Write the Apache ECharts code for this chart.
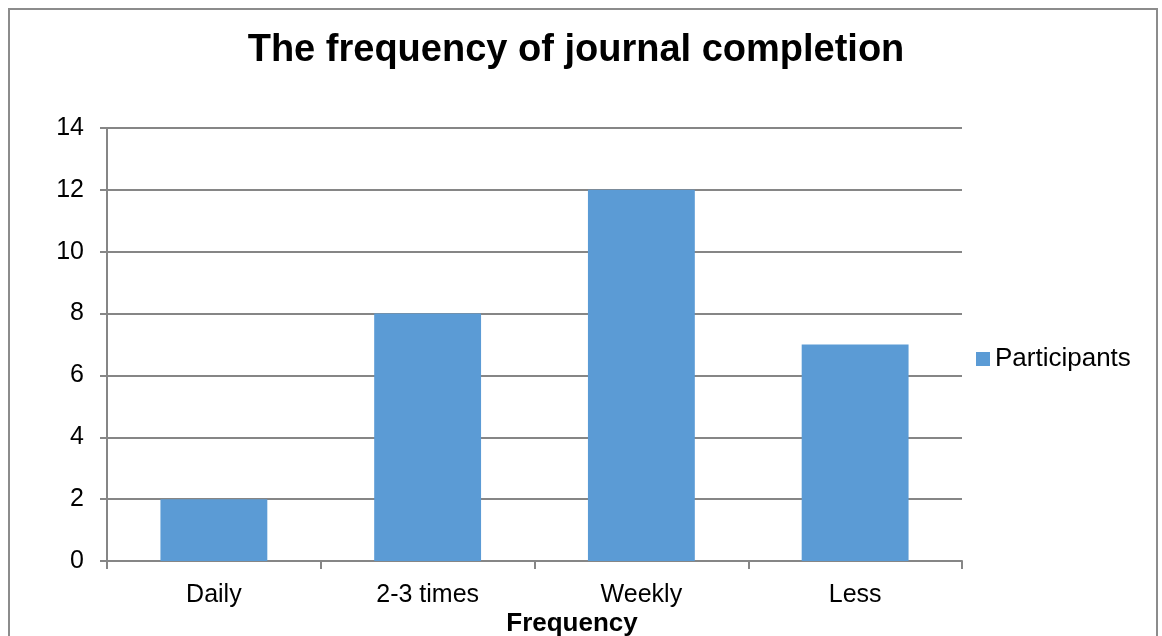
<!DOCTYPE html>
<html>
<head>
<meta charset="utf-8">
<script src="https://cdn.jsdelivr.net/npm/echarts@6/dist/echarts.min.js"></script>
<style>
  html, body { margin: 0; padding: 0; background: #fff; }
  #frame { position: absolute; left: 8px; top: 8px; width: 1150px; height: 700px; border: 2px solid #8c8c8c; box-sizing: border-box; }
  #chart { position: absolute; left: 0; top: 0; width: 1162px; height: 636px; }
</style>
</head>
<body>
<div id="frame"></div>
<div id="chart"></div>
<script>
const categories = ['Daily', '2-3 times', 'Weekly', 'Less'];
const participants = [2, 8, 12, 7];
const yTicks = { min: 0, max: 14, interval: 2 };

const gray = '#868686';
const font = "'Liberation Sans', Arial, sans-serif";

const myChart = echarts.init(document.getElementById('chart'));
const option = {
    animation: false,
    textStyle: { fontFamily: font },
    title: [{
        text: 'The frequency of journal completion',
        left: 571,
        top: 27,
        textAlign: 'center',
        textStyle: { fontSize: 38, fontWeight: 'bold', color: '#000', fontFamily: font }
    }, {
        text: 'Frequency',
        left: 567,
        top: 606,
        textAlign: 'center',
        textStyle: { fontSize: 26, fontWeight: 'bold', color: '#000', fontFamily: font }
    }],
    legend: {
        left: 976,
        top: 346,
        padding: 0,
        itemWidth: 14,
        itemHeight: 14,
        icon: 'rect',
        textStyle: { fontSize: 26, color: '#000', fontFamily: font },
        data: ['Participants']
    },
    grid: { left: 107, right: 200, top: 128, bottom: 75 },
    xAxis: {
        type: 'category',
        data: categories,
        axisLine: { show: true, lineStyle: { color: gray, width: 2 } },
        axisTick: { show: true, length: 8, lineStyle: { color: gray, width: 2 } },
        axisLabel: { fontSize: 25, color: '#000', margin: 22, fontFamily: font },
        splitLine: { show: false }
    },
    yAxis: {
        type: 'value',
        min: yTicks.min,
        max: yTicks.max,
        interval: yTicks.interval,
        axisLine: { show: true, lineStyle: { color: gray, width: 2 } },
        axisTick: { show: true, length: 7, lineStyle: { color: gray, width: 2 } },
        axisLabel: { fontSize: 25, color: '#000', margin: 23, fontFamily: font },
        splitLine: { show: true, lineStyle: { color: gray, width: 2 } }
    },
    series: [{
        name: 'Participants',
        type: 'bar',
        barWidth: '50%',
        itemStyle: { color: '#5B9BD5' },
        data: participants
    }]
};
myChart.setOption(option);
</script>
</body>
</html>
